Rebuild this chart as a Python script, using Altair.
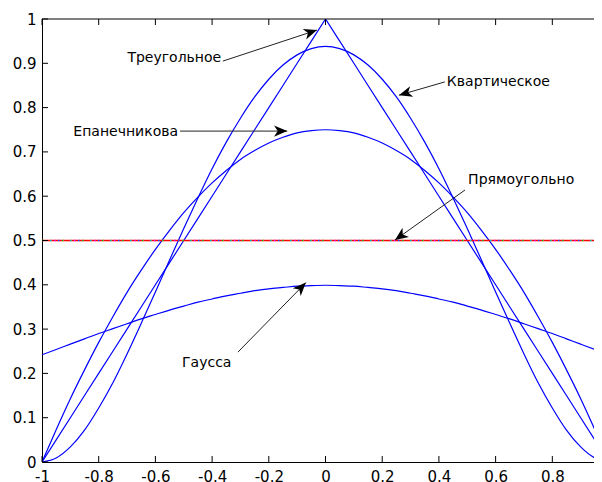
import math
import altair as alt
import pandas as pd

# ---- kernel curves, values ----
x_vals = [-1.0, -0.95, -0.9, -0.85, -0.8, -0.75, -0.7, -0.65, -0.6, -0.55, -0.5,
          -0.45, -0.4, -0.35, -0.3, -0.25, -0.2, -0.15, -0.1, -0.05, 0.0,
          0.05, 0.1, 0.15, 0.2, 0.25, 0.3, 0.35, 0.4, 0.45, 0.5,
          0.55, 0.6, 0.65, 0.7, 0.75, 0.8, 0.85, 0.9, 0.95, 1.0]
triangular = [0.0, 0.05, 0.1, 0.15, 0.2, 0.25, 0.3, 0.35, 0.4, 0.45, 0.5,
              0.55, 0.6, 0.65, 0.7, 0.75, 0.8, 0.85, 0.9, 0.95, 1.0,
              0.95, 0.9, 0.85, 0.8, 0.75, 0.7, 0.65, 0.6, 0.55, 0.5,
              0.45, 0.4, 0.35, 0.3, 0.25, 0.2, 0.15, 0.1, 0.05, 0.0]
quartic = [0.0, 0.009, 0.034, 0.072, 0.122, 0.179, 0.244, 0.313, 0.384, 0.456, 0.527,
           0.596, 0.662, 0.722, 0.776, 0.824, 0.864, 0.896, 0.919, 0.933, 0.938,
           0.933, 0.919, 0.896, 0.864, 0.824, 0.776, 0.722, 0.662, 0.596, 0.527,
           0.456, 0.384, 0.313, 0.244, 0.179, 0.122, 0.072, 0.034, 0.009, 0.0]
epanechnikov = [0.0, 0.073, 0.143, 0.208, 0.27, 0.328, 0.383, 0.433, 0.48, 0.523, 0.563,
                0.598, 0.63, 0.658, 0.683, 0.703, 0.72, 0.733, 0.743, 0.748, 0.75,
                0.748, 0.743, 0.733, 0.72, 0.703, 0.683, 0.658, 0.63, 0.598, 0.563,
                0.523, 0.48, 0.433, 0.383, 0.328, 0.27, 0.208, 0.143, 0.073, 0.0]
gaussian = [0.242, 0.254, 0.266, 0.278, 0.29, 0.301, 0.312, 0.323, 0.333, 0.343, 0.352,
            0.361, 0.368, 0.375, 0.381, 0.387, 0.391, 0.394, 0.397, 0.398, 0.399,
            0.398, 0.397, 0.394, 0.391, 0.387, 0.381, 0.375, 0.368, 0.361, 0.352,
            0.343, 0.333, 0.323, 0.312, 0.301, 0.29, 0.278, 0.266, 0.254, 0.242]
rect_x = [-1.0, 1.0]
rect_y = [0.5, 0.5]

# ---- annotations ----
ann_labels = ["Треугольное", "Квартическое", "Епанечникова", "Прямоугольно", "Гаусса"]
ann_text_x = [-0.368, 0.428, -0.520, 0.503, -0.506]
ann_text_y = [0.912, 0.858, 0.745, 0.637, 0.223]
ann_side = ["right", "left", "right", "left", "left"]
arrow_x0 = [-0.362, 0.421, -0.513, 0.492, -0.309]
arrow_y0 = [0.905, 0.858, 0.747, 0.614, 0.248]
arrow_x1 = [-0.030, 0.259, -0.135, 0.245, -0.069]
arrow_y1 = [0.975, 0.828, 0.747, 0.501, 0.405]

x_ticks = [-1, -0.8, -0.6, -0.4, -0.2, 0, 0.2, 0.4, 0.6, 0.8]
y_ticks = [0, 0.1, 0.2, 0.3, 0.4, 0.5, 0.6, 0.7, 0.8, 0.9, 1]

W, H = 552, 443
X_DOMAIN = [-1, 0.947]
FONT = "DejaVu Sans"

xs = alt.Scale(domain=X_DOMAIN, nice=False, zero=False)
ys = alt.Scale(domain=[0, 1], nice=False, zero=False)

curves = pd.DataFrame({
    "x": x_vals * 3,
    "y": quartic + epanechnikov + gaussian,
    "k": ["q"] * 41 + ["e"] * 41 + ["g"] * 41,
})
tri = pd.DataFrame({"x": x_vals, "y": triangular})
rect = pd.DataFrame({"x": rect_x, "y": rect_y})

X = alt.X("x:Q", scale=xs, axis=alt.Axis(values=x_ticks, ticks=False, grid=False, title=None,
                                          domainColor="black", labelColor="black", labelFont=FONT,
                                          labelFontSize=15, labelPadding=7, labelFlush=False,
                                          labelOverlap=False, labelExpr="datum.value + ''"))
Y = alt.Y("y:Q", scale=ys, axis=alt.Axis(values=y_ticks, ticks=False, grid=False, title=None,
                                          domainColor="black", labelColor="black", labelFont=FONT,
                                          labelFontSize=15, labelPadding=6, labelFlush=False,
                                          labelOverlap=False, labelExpr="datum.value + ''"))

curve_layer = alt.Chart(curves).mark_line(color="#0000ff", strokeWidth=1.2, clip=True,
                                          interpolate="monotone").encode(x=X, y=Y, detail="k:N")
tri_layer = alt.Chart(tri).mark_line(color="#0000ff", strokeWidth=1.2, clip=True).encode(
    x=alt.X("x:Q", scale=xs), y=alt.Y("y:Q", scale=ys))

rect_layers = [alt.Chart(rect).mark_line(color="#ff0000", strokeWidth=1.3, clip=True).encode(
    x=alt.X("x:Q", scale=xs), y=alt.Y("y:Q", scale=ys))]
for col, off in [("#22cc22", 0), ("#2255ff", 4), ("#ee00ee", 8), ("#00cccc", 12)]:
    rect_layers.append(alt.Chart(rect).mark_line(color=col, strokeWidth=1.3, clip=True,
                                                 strokeDash=[1.5, 18.5], strokeDashOffset=off).encode(
        x=alt.X("x:Q", scale=xs), y=alt.Y("y:Q", scale=ys)))

# inward ticks and top frame
xt = pd.DataFrame({"x": x_ticks})
yt = pd.DataFrame({"y": y_ticks})
xtick_bottom = alt.Chart(xt).mark_rule(color="black", strokeWidth=1).encode(
    x=alt.X("x:Q", scale=xs), y=alt.value(H), y2=alt.value(H - 6))
xtick_top = alt.Chart(xt).mark_rule(color="black", strokeWidth=1).encode(
    x=alt.X("x:Q", scale=xs), y=alt.value(0), y2=alt.value(6))
ytick = alt.Chart(yt).mark_rule(color="black", strokeWidth=1).encode(
    y=alt.Y("y:Q", scale=ys), x=alt.value(0), x2=alt.value(6))
top_frame = alt.Chart(pd.DataFrame({"v": [0]})).mark_rule(color="black", strokeWidth=1).encode(
    x=alt.value(0), x2=alt.value(W), y=alt.value(0))

# arrows
sx = W / (X_DOMAIN[1] - X_DOMAIN[0])
sy = H
angles = []
for a, b, c, d in zip(arrow_x0, arrow_y0, arrow_x1, arrow_y1):
    dx = (c - a) * sx
    dy = -(d - b) * sy
    angles.append(math.degrees(math.atan2(dx, -dy)) % 360)
arrows = pd.DataFrame({"x0": arrow_x0, "y0": arrow_y0, "x1": arrow_x1, "y1": arrow_y1,
                       "angle": angles})
arrow_lines = alt.Chart(arrows).mark_rule(color="#222222", strokeWidth=1).encode(
    x=alt.X("x0:Q", scale=xs), y=alt.Y("y0:Q", scale=ys), x2="x1:Q", y2="y1:Q")
head_path = "M0,0 L-0.42,1 L0,0.72 L0.42,1 Z"
arrow_heads = alt.Chart(arrows).mark_point(shape=head_path, filled=True, color="black",
                                           size=700, opacity=1).encode(
    x=alt.X("x1:Q", scale=xs), y=alt.Y("y1:Q", scale=ys),
    angle=alt.Angle("angle:Q", scale=None))

ann = pd.DataFrame({"x": ann_text_x, "y": ann_text_y, "t": ann_labels, "side": ann_side})
text_right = alt.Chart(ann[ann.side == "right"]).mark_text(
    align="right", baseline="middle", font=FONT, fontSize=14, color="black").encode(
    x=alt.X("x:Q", scale=xs), y=alt.Y("y:Q", scale=ys), text="t:N")
text_left = alt.Chart(ann[ann.side == "left"]).mark_text(
    align="left", baseline="middle", font=FONT, fontSize=14, color="black").encode(
    x=alt.X("x:Q", scale=xs), y=alt.Y("y:Q", scale=ys), text="t:N")

chart = alt.layer(
    curve_layer, tri_layer, *rect_layers,
    xtick_bottom, xtick_top, ytick, top_frame,
    arrow_lines, arrow_heads, text_right, text_left,
).properties(
    width=W, height=H,
    autosize=alt.AutoSizeParams(type="none"),
    padding={"left": 34, "top": 11, "right": 0, "bottom": 20},
    background="white",
).configure_view(stroke=None)

chart.save("out.html", embed_options={"renderer": "svg", "actions": False})
